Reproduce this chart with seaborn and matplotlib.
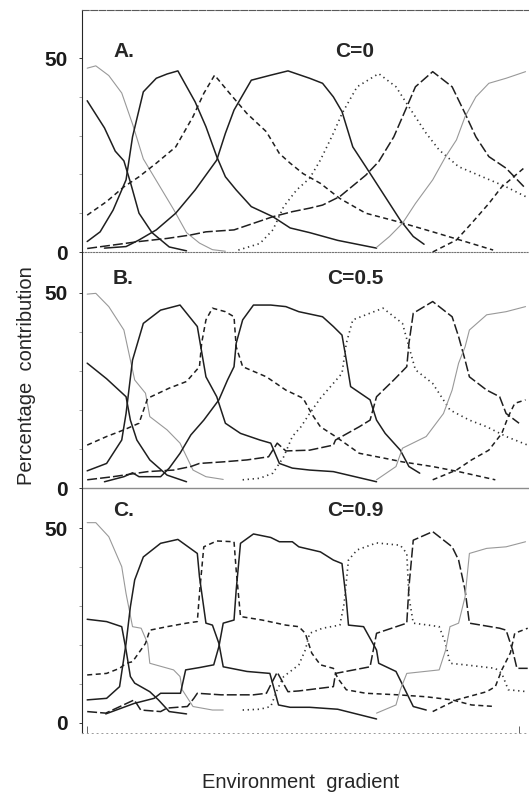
import matplotlib
matplotlib.use("Agg")
import matplotlib.pyplot as plt
import seaborn as sns

sns.set_style("ticks")
plt.rcParams["font.family"] = ["Liberation Sans", "DejaVu Sans"]

# ---- 数据：沿环境梯度 (0-100) 的各物种百分比贡献，读自原图 ----
# A. C=0
a1_x = [0, 2, 5, 8, 10.5, 13, 16.5, 20, 23, 26, 29, 32]
a1_y = [47.4, 48, 45.5, 41, 33, 24, 17.5, 11, 5, 2.3, 0.6, 0.2]
a2_x = [0, 4, 6.5, 8.5, 10, 12, 15, 19, 23]
a2_y = [39, 32, 26, 23.5, 18, 10, 5, 1.3, 0.3]
a3_x = [0, 3, 6, 9, 10.5, 13, 16, 18.5, 21, 25, 27.5, 30, 32, 34.5, 38, 43, 47, 51.5, 58, 67]
a3_y = [2.7, 5.2, 10.8, 18.6, 29.7, 41.3, 44.8, 45.9, 46.7, 38.7, 32.3, 24.6, 19.4, 16, 11.7, 9.1, 6.2, 5, 3, 1]
a4_x = [0, 4.5, 8.5, 12, 16, 20.5, 24.5, 27, 29.5, 33, 37, 41.5, 44.5, 47, 50, 54, 58.5, 64.5, 72, 80, 87.5, 94]
a4_y = [9.5, 13, 16.8, 19.4, 22.9, 27.1, 34.9, 40.9, 45.6, 40.9, 35.7, 31, 25.4, 22.9, 20.2, 17.7, 13.8, 10, 7.8, 5.2, 2.7, 0.5]
a5_x = [4, 9, 12, 16, 20.5, 25, 30, 32, 34, 38, 42.5, 46.5, 51.5, 54.5, 57, 59, 61.5, 64.5, 68.5, 72.5, 75.5, 78]
a5_y = [1, 1.4, 3.1, 5.7, 10, 16, 23.7, 30.6, 36.6, 44.3, 45.6, 46.7, 44.8, 43.5, 40, 36.2, 27.1, 22, 15.1, 8.2, 4, 2]
a6_x = [0, 6, 12, 18.5, 24, 27.5, 34, 38.5, 43, 47.5, 51.5, 54.5, 58.5, 64.5, 67.5, 71, 74, 76, 80, 84.5, 87.5, 90, 93, 97, 101.5]
a6_y = [0.9, 1.8, 2.7, 3.5, 4.4, 5.2, 5.7, 7.4, 9.1, 10.4, 11.3, 12.1, 14.3, 19.8, 23.3, 29.7, 37.4, 42.6, 46.5, 42.6, 35.7, 29.7, 24.6, 21.6, 16.4]
a7_x = [35, 40, 43, 45.5, 48.5, 51.5, 54, 57, 59, 62.5, 67.5, 71.5, 74.5, 78.5, 81.5, 86, 91.5, 97, 101.5]
a7_y = [0.5, 2.2, 5.7, 11.7, 16, 19, 23.7, 30.6, 35.7, 42.6, 46, 42.6, 37.4, 30.6, 26.3, 22, 19.4, 16.8, 14.3]
a8_x = [67, 70, 73, 76, 80, 83, 85.5, 87.5, 90, 93, 97, 101.5]
a8_y = [1.2, 4, 7.4, 12.5, 18.6, 24.6, 28.9, 34.9, 40, 43.5, 44.8, 46.5]
a9_x = [80, 85.5, 89, 93, 96, 101.5]
a9_y = [0, 3.1, 7.4, 12.5, 16.8, 22]

# B. C=0.5
b1_x = [0, 2, 5, 8.5, 10, 11, 13.5, 14.5, 18.5, 21.5, 24.5, 27.5, 31.5]
b1_y = [49.7, 49.9, 46.5, 40.5, 32.8, 27.7, 24.3, 18.3, 14.9, 11.5, 4.6, 2.9, 2.2]
b2_x = [0, 4.5, 9, 10, 11.5, 14.5, 18.5, 23]
b2_y = [32, 28, 23.4, 17.4, 12.3, 7.2, 3.3, 1.6]
b3_x = [0, 4.5, 8, 9, 10.5, 13, 17, 21.5, 25.5, 27.5, 30, 32, 35.5, 40, 42.5, 44.5, 47.5, 51.5, 57, 67]
b3_y = [4.4, 6.3, 12.3, 19.1, 32.8, 42.2, 45.6, 46.9, 41.4, 28.5, 23.4, 16.6, 14, 12.3, 11.5, 6.3, 5.1, 4.6, 4.2, 1.6]
b4_x = [0, 4.5, 8.5, 12, 14, 19, 23, 26, 26.5, 27.5, 29, 32, 34, 34.5, 36, 41.5, 46, 50, 52, 54, 57.5, 63, 69, 73, 80, 86, 94.5]
b4_y = [11, 13.2, 14.9, 16.6, 23, 25.6, 27.3, 31.1, 37.1, 43.1, 46.1, 45.2, 43.9, 36.2, 31.1, 28.5, 25.1, 23, 19, 15.7, 13.2, 8.9, 7.6, 6.7, 5.5, 4.2, 2.1]
b5_x = [4, 8.5, 10.5, 12, 17, 19, 21.5, 24, 27, 30.5, 32.5, 34, 34.5, 36, 38.5, 42.5, 46, 49, 54.5, 57, 59, 60, 61, 65.5, 67, 69, 72.5, 74.5, 77]
b5_y = [1.6, 2.9, 3.9, 2.9, 2.9, 5.1, 8.9, 13.6, 17.4, 22.6, 27.7, 31.1, 37.1, 43.1, 46.9, 46.9, 46.5, 45.2, 43.9, 41.4, 39.2, 32.8, 26, 22.6, 17.4, 14, 9.7, 5.5, 3.8]
b6_x = [0, 6, 14, 20, 24, 26, 31.5, 37, 42, 44, 46, 51.5, 57, 57.5, 63, 65.5, 67, 71, 74, 74.5, 75.5, 80, 84.5, 86, 87.5, 88.5, 92.5, 95.5, 97, 100]
b6_y = [2.1, 2.9, 4.2, 4.6, 5.5, 6.3, 6.7, 7.2, 8, 11.5, 9.5, 9.7, 11, 12.3, 15.7, 17.4, 23.4, 27.7, 31.1, 37.1, 44.8, 47.8, 43.9, 38.8, 32.8, 28.5, 25.1, 23.4, 19.1, 16.6]
b7_x = [36, 40, 43, 45.5, 47.5, 49.5, 51.5, 54, 59, 60, 61.5, 68.5, 73, 74.5, 76, 80, 84, 88.5, 92.5, 97, 102]
b7_y = [2.1, 2.5, 3.8, 8, 13.2, 15.7, 19.1, 23, 29.4, 37.1, 43.1, 46.1, 42.2, 36.2, 30.3, 26.8, 20, 17.4, 15.7, 13.2, 11]
b8_x = [67, 71.5, 73, 78.5, 82.5, 84.5, 86, 87.5, 88.5, 92.5, 97, 101.5]
b8_y = [2.1, 5.5, 10.2, 13.2, 19.1, 25.1, 32, 36.2, 40.5, 44.4, 45.2, 46.5]
b9_x = [80, 85.5, 89, 93, 96, 97.5, 99, 101.5]
b9_y = [2.1, 4.6, 7.2, 9.7, 14, 18.3, 21.7, 22.6]

# C. C=0.9
c1_x = [0, 2, 5, 8, 9, 10.5, 12.5, 14, 14.5, 20, 21.5, 22, 24.5, 29, 31.5]
c1_y = [51.4, 51.4, 47.8, 40.1, 33.2, 24.7, 24.3, 20.4, 15.3, 13.6, 11.9, 8.5, 4.2, 3.3, 3.3]
c2_x = [0, 4.5, 8, 9, 10, 11, 14.5, 16.5, 19, 23]
c2_y = [26.6, 26, 24.7, 18.7, 11.9, 10.2, 8, 5.9, 2.9, 2.3]
c3_x = [0, 4.5, 7.5, 9, 10, 11, 13, 17, 21, 25.5, 26, 27.5, 29, 30.5, 31.5, 37, 42.3, 44.3, 47, 51.5, 58, 67]
c3_y = [5.9, 6.3, 9.3, 20.4, 29.8, 36.7, 42.6, 46.1, 47.1, 43.5, 37.5, 25.6, 25.1, 20.4, 14.4, 13.2, 12.7, 4.6, 4, 4, 3.5, 1]
c4_x = [0, 4.5, 7.5, 9, 10.5, 13.5, 14.5, 18.5, 23, 25.5, 26, 27, 30, 34, 34.5, 35.5, 40.5, 46, 49, 50.5, 52, 54, 57, 58, 60, 64.5, 72, 78.5, 84.5, 89, 94.5]
c4_y = [12.3, 12.7, 14, 15.3, 15.7, 20.4, 23.8, 24.7, 25.6, 26, 33.2, 45.2, 46.7, 46.5, 39.2, 27.3, 26.4, 25.1, 24.7, 23, 17.9, 14.9, 14, 11.5, 8.5, 7.6, 7.2, 6.7, 5.9, 4.6, 4.2]
c5_x = [4.3, 10.9, 15.5, 17, 21.6, 22.8, 26, 29.3, 30.5, 31.5, 34, 34.5, 35.5, 38.5, 42.5, 44.5, 47.5, 49, 54, 57, 59, 60, 60.5, 64, 67, 67.5, 71.5, 74, 75.5, 78.5]
c5_y = [2.3, 5, 6.3, 7.6, 7.6, 13.6, 14.2, 14.9, 19.6, 25.6, 26.4, 34.1, 46.1, 48.5, 47.6, 46.5, 46.5, 45.2, 43.9, 41.8, 40.9, 31.5, 25.1, 24.7, 18.7, 15.3, 13.2, 7.6, 4.2, 3.3]
c6_x = [0, 4.3, 10.9, 12.4, 17, 18.5, 23.2, 24.7, 25.5, 31, 38.5, 41.5, 44, 46.5, 49, 57, 57.5, 65.5, 67, 74, 74.5, 75.5, 80, 84.5, 86, 87.5, 88.5, 95.5, 97, 98.5, 99.5, 102]
c6_y = [2.9, 2.5, 5.9, 3.3, 2.9, 3.8, 4.2, 6.3, 7.6, 7.2, 7.2, 7.6, 13, 8, 8.2, 9.3, 12.7, 14.4, 23, 25.6, 34.9, 46.9, 49.1, 45.2, 41.8, 34.1, 25.6, 24.3, 23.8, 18.7, 14, 14]
c7_x = [36, 40, 42.5, 44, 45.5, 47.5, 49, 50.5, 51.5, 54.5, 58.5, 59.5, 60.5, 62.5, 67, 72.5, 74, 74.5, 75.5, 79, 81.5, 83, 84, 87.5, 94.5, 96, 97.5, 102]
c7_y = [3.3, 3.5, 4.2, 8.5, 11.9, 13.6, 14.9, 18.7, 23, 24.3, 25.1, 30.7, 41.8, 44.4, 46.2, 45.6, 43.5, 32.4, 25.6, 25.1, 24.7, 20.4, 15.3, 14.9, 14, 12.7, 8.5, 8]
c8_x = [67, 71.5, 72.5, 74, 81.5, 83, 84, 86, 87.5, 88.5, 92.5, 97, 101.5]
c8_y = [2.5, 4.6, 8.5, 12.7, 13.6, 18.7, 24.7, 25.6, 32.4, 43.5, 44.8, 45.2, 46.5]
c9_x = [80, 85.5, 92.5, 94.5, 96, 98, 99, 102]
c9_y = [2.9, 5.9, 8, 9.3, 13.6, 18, 23, 24.3]

panel_letters = ["A.", "B.", "C."]
panel_titles = ["C=0", "C=0.5", "C=0.9"]

# 每个物种的线型（三幅图一致）
gray = dict(color="0.6", linewidth=0.8, linestyle="-")
dark = dict(color="0.12", linewidth=1.1, linestyle="-")
dash = dict(color="0.12", linewidth=1.1, linestyle=(0, (3.3, 2.3)))
longdash = dict(color="0.12", linewidth=1.1, linestyle=(0, (6.5, 2)))
dots = dict(color="0.2", linewidth=1.2, linestyle=(0, (0.8, 2.2)))
styles = [gray, dark, dark, dash, dark, longdash, dots, gray, dash]

curves = [
    [(a1_x, a1_y), (a2_x, a2_y), (a3_x, a3_y), (a4_x, a4_y), (a5_x, a5_y),
     (a6_x, a6_y), (a7_x, a7_y), (a8_x, a8_y), (a9_x, a9_y)],
    [(b1_x, b1_y), (b2_x, b2_y), (b3_x, b3_y), (b4_x, b4_y), (b5_x, b5_y),
     (b6_x, b6_y), (b7_x, b7_y), (b8_x, b8_y), (b9_x, b9_y)],
    [(c1_x, c1_y), (c2_x, c2_y), (c3_x, c3_y), (c4_x, c4_y), (c5_x, c5_y),
     (c6_x, c6_y), (c7_x, c7_y), (c8_x, c8_y), (c9_x, c9_y)],
]

fig = plt.figure(figsize=(5.29, 7.95), dpi=100)
W, H = 529.0, 795.0
left = 82 / W
width = (W - 82) / W
# (top px, bottom px, ylim)
boxes = [(10, 252, (0, 62.4)), (252, 488, (0, 60.5)), (488, 733, (-2.6, 60.3))]
label_y = [51.8, 53.8, 54.4]

axes = []
for i, (top, bot, ylim) in enumerate(boxes):
    ax = fig.add_axes([left, 1 - bot / H, width, (bot - top) / H])
    axes.append(ax)
    for (xs, ys), st in zip(curves[i], styles):
        sns.lineplot(x=xs, y=ys, ax=ax, estimator=None, sort=False, **st)
    ax.set_xlim(-1.2, 102.3)
    ax.set_ylim(*ylim)
    ax.set_yticks([0, 50])
    ax.set_yticklabels(["0", "50"], fontsize=15, fontweight="bold")
    ax.set_yticks([10, 20, 30, 40], minor=True)
    ax.tick_params(axis="y", which="major", length=2, width=0.6, pad=8, colors="0.1")
    ax.tick_params(axis="y", which="minor", length=2, width=0.5, color="0.5")
    ax.set_xlabel("")
    ax.set_ylabel("")
    ax.spines["right"].set_visible(False)
    ax.spines["left"].set_color("0.15")
    ax.spines["left"].set_linewidth(0.8)
    ax.text(6, label_y[i], panel_letters[i], fontsize=15, fontweight="bold",
            ha="left", va="center")
    ax.text(62, label_y[i], panel_titles[i], fontsize=15, fontweight="bold",
            ha="center", va="center")
    ax.patch.set_alpha(0)

# 边框样式
axes[0].spines["top"].set_linestyle((0, (6, 1.5)))
axes[0].spines["top"].set_color("0.35")
axes[0].spines["top"].set_linewidth(0.8)
axes[0].spines["bottom"].set_linestyle((0, (1, 1.5)))
axes[0].spines["bottom"].set_color("0.45")
axes[1].spines["top"].set_visible(False)
axes[1].spines["bottom"].set_color("0.55")
axes[1].spines["bottom"].set_linewidth(1.0)
axes[2].spines["top"].set_visible(False)
axes[2].spines["bottom"].set_linestyle((0, (1, 4)))
axes[2].spines["bottom"].set_color("0.6")
axes[2].spines["bottom"].set_linewidth(0.7)

for ax in axes[:2]:
    ax.set_xticks([])
axes[2].set_xticks([0, 100])
axes[2].set_xticklabels([])
axes[2].tick_params(axis="x", direction="in", length=5, width=0.7, color="0.4")

fig.text(27 / W, 1 - 376 / H, "Percentage  contribution", rotation=90,
         fontsize=14.5, ha="center", va="center")
fig.text(301 / W, 1 - 782 / H, "Environment  gradient", fontsize=14.5,
         ha="center", va="center")

fig.savefig("out.png", dpi=100)
